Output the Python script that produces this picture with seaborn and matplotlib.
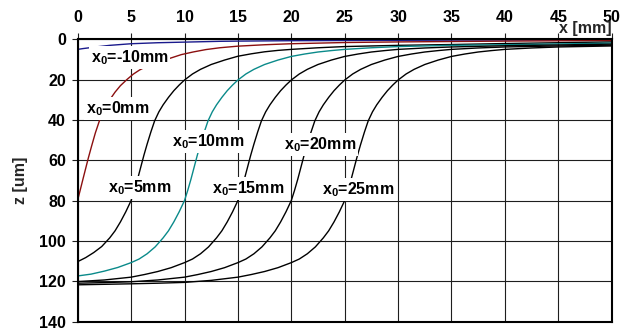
import matplotlib
matplotlib.use("Agg")
import matplotlib.pyplot as plt
import pandas as pd
import seaborn as sns

# Depth profiles z(x) for several start positions x0
x0_labels = ["x$_{0}$=-10mm", "x$_{0}$=0mm", "x$_{0}$=5mm", "x$_{0}$=10mm",
             "x$_{0}$=15mm", "x$_{0}$=20mm", "x$_{0}$=25mm"]

x_m10 = [0, 0.5, 1.1, 2, 3, 4, 5, 7.5, 10, 13.3, 15, 20, 25, 30, 35, 40, 45, 50]
z_m10 = [5.0, 4.6, 4.2, 3.6, 3.0, 2.6, 2.2, 1.7, 1.4, 1.0, 0.9, 0.7, 0.6, 0.5, 0.4, 0.35, 0.3, 0.25]

x_0 = [0, 0.25, 0.5, 0.75, 1.0, 1.3, 1.65, 2.06, 2.5, 3.0, 3.5, 4.0, 4.6, 5.2, 5.8, 6.5,
       7.5, 8.6, 9.7, 10.8, 12, 13.3, 15, 17.5, 20, 22.5, 25, 30, 35, 40, 45, 50]
z_0 = [79.7, 74.5, 69.2, 64, 58.8, 53, 46.5, 40, 35, 30, 26.2, 23, 20, 17.3, 15.2, 13.3,
       11.3, 9.5, 7.6, 6.3, 5.1, 4.2, 3.4, 2.7, 2.2, 1.9, 1.6, 1.3, 1.1, 0.9, 0.75, 0.6]

x_5 = [0, 0.75, 1.5, 2.25, 3.0, 3.5, 4.0, 4.5, 5.0, 5.3, 5.6, 5.9, 6.2, 6.5, 6.85, 7.2,
       7.6, 8.0, 8.5, 9.0, 9.5, 10.0, 10.75, 11.5, 12.5, 13.75, 15, 16.25, 17.5, 18.75,
       20, 22.5, 25, 27.5, 30, 35, 40, 45, 50]
z_5 = [110.3, 108.3, 105.8, 102.8, 98.5, 95, 90.6, 85.6, 80, 75, 69.5, 63.5, 57.5, 52, 46,
       40.5, 36, 32.5, 28.8, 25.5, 22.7, 20.2, 17.2, 14.9, 12.5, 10.3, 8.4, 7.2, 6.2, 5.5,
       5.0, 4.2, 3.6, 3.3, 3.0, 2.6, 2.1, 1.7, 1.3]

x_10 = [0, 1.25, 2.5, 3.75, 5, 5.75, 6.5, 7.25, 8.0, 8.5, 9.0, 9.5, 10, 10.3, 10.6, 10.9,
        11.2, 11.5, 11.85, 12.2, 12.6, 13.0, 13.5, 14.0, 14.5, 15, 15.75, 16.5, 17.5,
        18.75, 20, 21.25, 22.5, 23.75, 25, 27.5, 30, 35, 40, 45, 50]
z_10 = [117.4, 116.5, 115.0, 113.2, 110.8, 109.0, 106.4, 103.0, 98.5, 95.0, 90.6, 85.6,
        80, 75, 69.5, 63.5, 57.5, 52, 46, 40.5, 36, 32.5, 28.8, 25.5, 22.7, 20.2, 17.2,
        14.9, 12.5, 10.3, 8.5, 7.3, 6.3, 5.6, 5.0, 4.2, 3.6, 3.0, 2.7, 2.3, 1.9]

x_15 = [0, 2.5, 5, 6.25, 7.5, 8.75, 10, 10.75, 11.5, 12.25, 13.0, 13.5, 14.0, 14.5, 15,
        15.3, 15.6, 15.9, 16.2, 16.5, 16.85, 17.2, 17.6, 18.0, 18.5, 19.0, 19.5, 20,
        20.75, 21.5, 22.5, 23.75, 25, 26.25, 27.5, 28.75, 30, 32.5, 35, 40, 45, 50]
z_15 = [120.2, 119.4, 118.0, 116.7, 115.2, 113.3, 110.8, 109.0, 106.4, 103.0, 98.5, 95.0,
        90.6, 85.6, 80, 75, 69.5, 63.5, 57.5, 52, 46, 40.5, 36, 32.5, 28.8, 25.5, 22.7,
        20.2, 17.2, 14.9, 12.5, 10.3, 8.5, 7.3, 6.3, 5.6, 5.0, 4.3, 3.8, 3.2, 2.8, 2.4]

x_20 = [0, 2.5, 5, 7.5, 10, 11.25, 12.5, 13.75, 15, 15.75, 16.5, 17.25, 18.0, 18.5, 19.0,
        19.5, 20, 20.3, 20.6, 20.9, 21.2, 21.5, 21.85, 22.2, 22.6, 23.0, 23.5, 24.0, 24.5,
        25, 25.75, 26.5, 27.5, 28.75, 30, 31.25, 32.5, 33.75, 35, 37.5, 40, 45, 50]
z_20 = [121.0, 120.7, 120.3, 119.4, 118.0, 116.7, 115.2, 113.3, 110.8, 109.0, 106.4,
        103.0, 98.5, 95.0, 90.6, 85.6, 80, 75, 69.5, 63.5, 57.5, 52, 46, 40.5, 36, 32.5,
        28.8, 25.5, 22.7, 20.2, 17.2, 14.9, 12.5, 10.3, 8.5, 7.3, 6.3, 5.6, 5.0, 4.3,
        3.8, 3.3, 2.9]

x_25 = [0, 5, 7.5, 10, 12.5, 15, 16.25, 17.5, 18.75, 20, 20.75, 21.5, 22.25, 23.0, 23.5,
        24.0, 24.5, 25, 25.3, 25.6, 25.9, 26.2, 26.5, 26.85, 27.2, 27.6, 28.0, 28.5,
        29.0, 29.5, 30, 30.75, 31.5, 32.5, 33.75, 35, 36.25, 37.5, 38.75, 40, 42.5, 45, 50]
z_25 = [121.8, 121.3, 121.0, 120.6, 119.6, 118.0, 116.7, 115.2, 113.3, 110.8, 109.0,
        106.4, 103.0, 98.5, 95.0, 90.6, 85.6, 80, 75, 69.5, 63.5, 57.5, 52, 46, 40.5, 36,
        32.5, 28.8, 25.5, 22.7, 20.2, 17.2, 14.9, 12.5, 10.3, 8.5, 7.3, 6.3, 5.6, 5.0,
        4.3, 3.8, 3.3]

# Label anchor positions (x in mm, z in um)
label_x = [4.85, 3.77, 5.83, 12.25, 15.93, 22.67, 26.3]
label_z = [8.9, 34.3, 73.7, 50.7, 73.9, 52.4, 74.6]

x_ticks = [0, 5, 10, 15, 20, 25, 30, 35, 40, 45, 50]
z_ticks = [0, 20, 40, 60, 80, 100, 120, 140]

curve_x = [x_m10, x_0, x_5, x_10, x_15, x_20, x_25]
curve_z = [z_m10, z_0, z_5, z_10, z_15, z_20, z_25]
curve_colors = ["#1a1a8c", "#8b0f0f", "#000000", "#0a8a8a", "#000000", "#000000", "#000000"]

frames = []
for name, xs, zs in zip(x0_labels, curve_x, curve_z):
    frames.append(pd.DataFrame({"x": xs, "z": zs, "curve": name}))
df = pd.concat(frames, ignore_index=True)

sns.set_theme(style="white")
plt.rcParams["font.family"] = ["Liberation Sans", "DejaVu Sans"]
plt.rcParams["font.weight"] = "bold"
plt.rcParams["mathtext.fontset"] = "custom"
plt.rcParams["mathtext.rm"] = "Liberation Sans:bold"
plt.rcParams["mathtext.it"] = "Liberation Sans:bold"
plt.rcParams["mathtext.bf"] = "Liberation Sans:bold"
plt.rcParams["mathtext.default"] = "rm"

W, H = 630, 329
fig = plt.figure(figsize=(W / 100, H / 100), dpi=100)
left, right, top, bottom = 77.7, 611.7, 39.3, 321.5
ax = fig.add_axes([left / W, 1 - bottom / H, (right - left) / W, (bottom - top) / H])

sns.lineplot(data=df, x="x", y="z", hue="curve", palette=dict(zip(x0_labels, curve_colors)),
             sort=False, estimator=None, legend=False, linewidth=1.0, ax=ax, zorder=2)

ax.set_xlim(0, 50)
ax.set_ylim(140, 0)
ax.set_xticks(x_ticks)
ax.set_yticks(z_ticks)
ax.set_xlabel("")
ax.set_ylabel("")
ax.xaxis.tick_top()
ax.tick_params(axis="x", top=True, bottom=False, labeltop=True, labelbottom=False,
               direction="out", length=4.5, width=0.8, color="#1e1e1e", pad=5.5,
               labelsize=11.5, labelcolor="black")
ax.tick_params(axis="y", left=True, right=False, direction="out", length=4.5,
               width=0.8, color="#1e1e1e", pad=4, labelsize=11.5, labelcolor="black")
for lab in ax.get_xticklabels() + ax.get_yticklabels():
    lab.set_fontweight("bold")

ax.grid(True, color="#1e1e1e", linewidth=0.8)
ax.set_axisbelow(True)
for side in ["top", "bottom", "left", "right"]:
    ax.spines[side].set_visible(True)
    ax.spines[side].set_color("black")
    ax.spines[side].set_linewidth(1.5)

for text, lx, lz in zip(x0_labels, label_x, label_z):
    ax.text(lx, lz, text, ha="center", va="center", fontsize=11.5, fontweight="bold",
            color="black", zorder=5,
            bbox=dict(facecolor="white", edgecolor="none", pad=1.5))

fig.text(612 / W, 1 - 28.5 / H, "x [mm]", ha="right", va="center", fontsize=11.5,
         fontweight="bold")
fig.text(20 / W, 1 - 180 / H, "z [um]", ha="center", va="center", rotation=90,
         fontsize=11.5, fontweight="bold")

fig.savefig("out.png", dpi=100, facecolor="white")
